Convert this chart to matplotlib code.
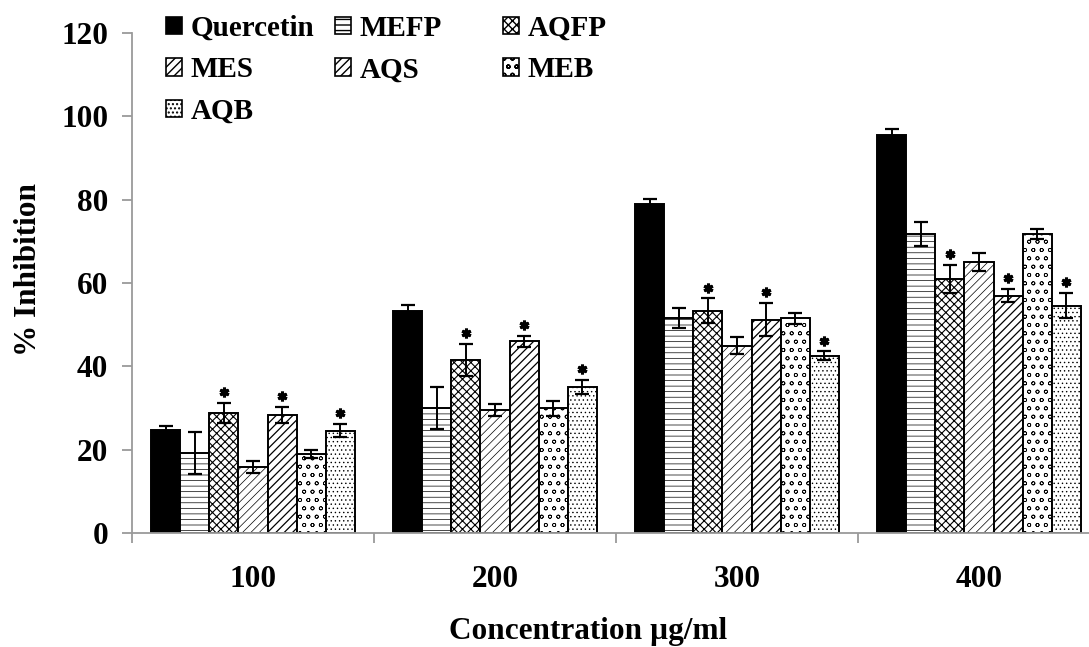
import matplotlib
matplotlib.use("Agg")

import numpy as np
import matplotlib.pyplot as plt
from matplotlib.patches import Patch

# ── data ──────────────────────────────────────────────────────────────────────
concentrations = ["100", "200", "300", "400"]
series = ["Quercetin", "MEFP", "AQFP", "MES", "AQS", "MEB", "AQB"]

quercetin = [24.8, 53.2, 79.0, 95.6]
mefp      = [19.2, 30.0, 51.5, 71.8]
aqfp      = [28.8, 41.5, 53.3, 61.0]
mes       = [15.8, 29.5, 45.0, 65.0]
aqs       = [28.3, 46.0, 51.2, 57.0]
meb       = [19.0, 30.0, 51.5, 71.8]
aqb       = [24.6, 35.0, 42.6, 54.6]

quercetin_err = [0.9, 1.5, 1.2, 1.3]
mefp_err      = [5.0, 5.0, 2.4, 2.8]
aqfp_err      = [2.4, 3.8, 3.0, 3.4]
mes_err       = [1.5, 1.5, 2.0, 2.2]
aqs_err       = [2.0, 1.4, 4.0, 1.5]
meb_err       = [0.9, 1.8, 1.4, 1.2]
aqb_err       = [1.6, 1.7, 1.0, 3.0]

# series flagged with * at every concentration
starred = ["AQFP", "AQS", "AQB"]

values = [quercetin, mefp, aqfp, mes, aqs, meb, aqb]
errors = [quercetin_err, mefp_err, aqfp_err, mes_err, aqs_err, meb_err, aqb_err]

# ── style ─────────────────────────────────────────────────────────────────────
FONT = "Liberation Serif"
plt.rcParams["font.family"] = FONT
plt.rcParams["font.weight"] = "bold"

styles = {
    "Quercetin": dict(facecolor="black", hatch=None,   hlw=1.0),
    "MEFP":      dict(facecolor="white", hatch="---",  hlw=0.5),
    "AQFP":      dict(facecolor="white", hatch="xxxx", hlw=0.8),
    "MES":       dict(facecolor="white", hatch="////", hlw=0.5),
    "AQS":       dict(facecolor="white", hatch="////", hlw=0.9),
    "MEB":       dict(facecolor="white", hatch="oo",   hlw=0.5),
    "AQB":       dict(facecolor="white", hatch="....", hlw=0.5),
}

BAR_W = 0.12
GRAY = "#9a9a9a"
FS = 22.5

fig = plt.figure(figsize=(10.89, 6.47), dpi=100)
ax = fig.add_axes([132 / 1089, 1 - 533 / 647, 968 / 1089, 500 / 647])

x = np.arange(len(concentrations))
for i, name in enumerate(series):
    pos = x + (i - 3) * BAR_W
    st = styles[name]
    with plt.rc_context({"hatch.linewidth": st["hlw"]}):
        ax.bar(pos, values[i], BAR_W, facecolor=st["facecolor"], hatch=st["hatch"],
               edgecolor="black", linewidth=1.4, zorder=2)
    ax.errorbar(pos, values[i], yerr=errors[i], fmt="none", ecolor="black",
                elinewidth=1.4, capsize=5, capthick=1.6, zorder=3)
    if name in starred:
        tops = np.array(values[i]) + np.array(errors[i]) + 2.6
        ax.plot(pos, tops, ls="none", marker=(6, 2, 0), ms=7, mew=2.2,
                color="black", zorder=3)

ax.set_xlim(-0.5, len(concentrations) - 0.5)
ax.set_ylim(0, 120)
ax.set_yticks(np.arange(0, 121, 20))
ax.set_xticks(x)
ax.set_xticklabels(concentrations)
ax.set_xticks(np.arange(-0.5, len(concentrations)), minor=True)

for s in ("top", "right"):
    ax.spines[s].set_visible(False)
for s in ("left", "bottom"):
    ax.spines[s].set_color(GRAY)
    ax.spines[s].set_linewidth(1.3)

ax.tick_params(axis="y", direction="out", length=7, width=1.3, color=GRAY,
               labelsize=FS, pad=10)
ax.tick_params(axis="x", which="major", length=0, labelsize=FS, pad=23)
ax.tick_params(axis="x", which="minor", direction="out", length=7, width=1.3,
               color=GRAY)

ax.set_ylabel("% Inhibition", fontsize=FS, fontweight="bold")
ax.yaxis.set_label_coords(-0.092, 0.526)
ax.set_xlabel("Concentration µg/ml", fontsize=FS, fontweight="bold")
ax.xaxis.set_label_coords(0.471, -0.168)

# legend laid out as three separate columns (row-major order like the original)
columns = [["Quercetin", "MES", "AQB"], ["MEFP", "AQS"], ["AQFP", "MEB"]]
col_x = [160, 329, 497]
for names, cx in zip(columns, col_x):
    handles = []
    for n in names:
        with plt.rc_context({"hatch.linewidth": styles[n]["hlw"]}):
            handles.append(Patch(facecolor=styles[n]["facecolor"],
                                 hatch=styles[n]["hatch"], edgecolor="black",
                                 linewidth=1.2))
    fig.legend(handles, names, loc="upper left",
               bbox_to_anchor=(cx / 1089, 1 - 9 / 647),
               frameon=False, handlelength=0.55, handleheight=0.55,
               handletextpad=0.3, labelspacing=0.5,
               borderaxespad=0, borderpad=0.2,
               prop={"family": FONT, "weight": "bold", "size": 21})

fig.savefig("out.png", dpi=100)
